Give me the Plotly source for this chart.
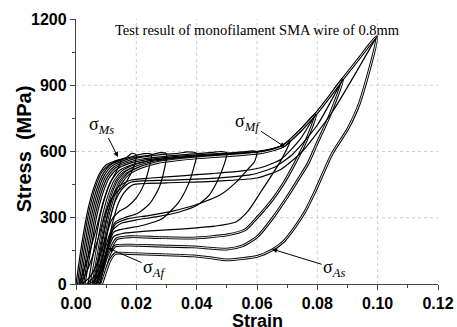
import plotly.graph_objects as go

# ---------------- data ----------------
x_ticks = [0.00, 0.02, 0.04, 0.06, 0.08, 0.10, 0.12]
x_tick_labels = ["0.00", "0.02", "0.04", "0.06", "0.08", "0.10", "0.12"]
y_ticks = [0, 300, 600, 900, 1200]
y_tick_labels = ["0", "300", "600", "900", "1200"]
grid_x = [0.02, 0.04, 0.06, 0.08, 0.10]
grid_y = [300, 600, 900]

strain_015 = [0.0000, 0.0020, 0.0040, 0.0060, 0.0080, 0.0100, 0.0125, 0.0150,
              0.0145, 0.0130, 0.0110, 0.0090, 0.0065, 0.0035, 0.0010]
stress_015 = [0, 190, 340, 440, 505, 540, 555, 565,
              540, 500, 450, 370, 240, 100, 0]

strain_020 = [0.0005, 0.0025, 0.0045, 0.0065, 0.0085, 0.0110, 0.0140, 0.0170, 0.0185, 0.0200,
              0.0195, 0.0180, 0.0160, 0.0135, 0.0115, 0.0095, 0.0070, 0.0040, 0.0015]
stress_020 = [0, 190, 340, 440, 505, 540, 560, 575, 592, 585,
              545, 495, 450, 415, 380, 310, 190, 70, 0]

strain_025 = [0.0010, 0.0030, 0.0050, 0.0070, 0.0090, 0.0115, 0.0150, 0.0190, 0.0225, 0.0250,
              0.0243, 0.0225, 0.0200, 0.0170, 0.0140, 0.0118, 0.0098, 0.0075, 0.0045, 0.0020]
stress_025 = [0, 185, 335, 435, 500, 540, 562, 578, 590, 588,
              530, 450, 390, 350, 325, 290, 210, 110, 30, 0]

strain_030 = [0.0015, 0.0035, 0.0055, 0.0075, 0.0095, 0.0120, 0.0160, 0.0200, 0.0250, 0.0280, 0.0300,
              0.0293, 0.0275, 0.0245, 0.0205, 0.0160, 0.0130, 0.0110, 0.0090, 0.0065, 0.0035]
stress_030 = [0, 180, 330, 430, 495, 535, 560, 575, 585, 595, 590,
              520, 435, 365, 320, 300, 280, 220, 130, 40, 0]

strain_040 = [0.0020, 0.0040, 0.0060, 0.0080, 0.0100, 0.0125, 0.0165, 0.0210, 0.0260, 0.0300, 0.0340, 0.0370, 0.0400,
              0.0392, 0.0372, 0.0340, 0.0285, 0.0220, 0.0160, 0.0125, 0.0105, 0.0085, 0.0060, 0.0040]
stress_040 = [0, 175, 325, 425, 490, 530, 555, 572, 582, 588, 592, 598, 592,
              535, 450, 370, 295, 265, 250, 235, 160, 70, 15, 0]

strain_050 = [0.0025, 0.0045, 0.0065, 0.0085, 0.0105, 0.0130, 0.0170, 0.0220, 0.0280, 0.0340, 0.0400, 0.0450, 0.0480, 0.0500,
              0.0492, 0.0470, 0.0440, 0.0400, 0.0340, 0.0270, 0.0200, 0.0150, 0.0122, 0.0102, 0.0080, 0.0055]
stress_050 = [0, 170, 320, 420, 485, 525, 550, 566, 576, 584, 590, 596, 600, 594,
              545, 470, 400, 355, 325, 305, 290, 275, 245, 160, 60, 0]

strain_060 = [0.0030, 0.0050, 0.0070, 0.0090, 0.0110, 0.0135, 0.0175, 0.0230, 0.0300, 0.0370, 0.0440, 0.0500, 0.0550, 0.0585, 0.0600,
              0.0592, 0.0570, 0.0530, 0.0480, 0.0400, 0.0320, 0.0240, 0.0170, 0.0130, 0.0108, 0.0088, 0.0065]
stress_060 = [0, 165, 315, 415, 480, 520, 545, 562, 573, 582, 588, 593, 598, 603, 598,
              555, 520, 460, 405, 360, 330, 310, 295, 270, 180, 70, 0]

strain_070 = [0.0040, 0.0060, 0.0080, 0.0100, 0.0120, 0.0145, 0.0185, 0.0240, 0.0310, 0.0380, 0.0450, 0.0520, 0.0590, 0.0640, 0.0680, 0.0710,
              0.0680, 0.0617, 0.0570, 0.0530, 0.0460, 0.0390, 0.0300, 0.0220, 0.0160, 0.0125, 0.0105, 0.0085, 0.0065]
stress_070 = [0, 160, 310, 410, 475, 515, 540, 558, 570, 578, 584, 590, 597, 607, 625, 650,
              561, 426, 330, 281, 262, 253, 245, 238, 230, 215, 150, 60, 0]

strain_080 = [0.0050, 0.0070, 0.0090, 0.0110, 0.0130, 0.0155, 0.0195, 0.0250, 0.0320, 0.0390, 0.0460, 0.0530, 0.0600, 0.0645, 0.0687, 0.0740, 0.0795,
              0.0760, 0.0726, 0.0690, 0.0650, 0.0600, 0.0560, 0.0500, 0.0390, 0.0280, 0.0180, 0.0135, 0.0112, 0.0092, 0.0075]
stress_080 = [0, 155, 305, 405, 470, 510, 536, 555, 567, 576, 582, 588, 596, 607, 625, 690, 770,
              640, 548, 460, 380, 300, 245, 222, 208, 210, 214, 205, 150, 60, 0]

strain_090 = [0.0060, 0.0080, 0.0100, 0.0120, 0.0140, 0.0165, 0.0205, 0.0260, 0.0330, 0.0400, 0.0470, 0.0540, 0.0610, 0.0650, 0.0687, 0.0740, 0.0795, 0.0840, 0.0885,
              0.0840, 0.0800, 0.0770, 0.0735, 0.0700, 0.0650, 0.0600, 0.0550, 0.0500, 0.0390, 0.0280, 0.0180, 0.0130, 0.0110, 0.0092, 0.0080]
stress_090 = [0, 150, 300, 400, 465, 505, 532, 552, 565, 574, 580, 587, 596, 608, 625, 690, 770, 848, 930,
              760, 640, 548, 470, 394, 295, 213, 172, 158, 168, 172, 176, 172, 130, 50, 0]

strain_100 = [0.0070, 0.0090, 0.0110, 0.0130, 0.0150, 0.0175, 0.0215, 0.0270, 0.0340, 0.0410, 0.0480, 0.0550, 0.0620, 0.0655, 0.0687, 0.0740, 0.0795, 0.0840, 0.0885, 0.0940, 0.0997,
              0.0940, 0.0900, 0.0850, 0.0790, 0.0760, 0.0726, 0.0690, 0.0650, 0.0600, 0.0500, 0.0450, 0.0390, 0.0280, 0.0180, 0.0130, 0.0112, 0.0095, 0.0085]
stress_100 = [0, 145, 295, 395, 460, 500, 528, 550, 563, 572, 579, 586, 596, 608, 625, 690, 770, 848, 930, 1025, 1120,
              820, 700, 593, 412, 330, 258, 195, 154, 125, 109, 118, 127, 133, 138, 138, 105, 40, 0]

# second-cycle loading paths (lower plateau)
strain_080_c2 = [0.0060, 0.0080, 0.0100, 0.0120, 0.0140, 0.0180, 0.0250, 0.0350, 0.0450, 0.0550, 0.0620, 0.0680, 0.0740, 0.0795]
stress_080_c2 = [0, 150, 290, 390, 440, 470, 480, 490, 500, 512, 530, 565, 650, 770]

strain_090_c2 = [0.0070, 0.0090, 0.0110, 0.0130, 0.0150, 0.0180, 0.0300, 0.0450, 0.0580, 0.0660, 0.0720, 0.0800, 0.0885]
stress_090_c2 = [0, 140, 280, 375, 425, 460, 470, 478, 495, 530, 590, 720, 930]

strain_100_c2 = [0.0080, 0.0100, 0.0120, 0.0140, 0.0160, 0.0190, 0.0300, 0.0450, 0.0600, 0.0680, 0.0750, 0.0850, 0.0997]
stress_100_c2 = [0, 135, 270, 365, 415, 450, 458, 465, 480, 520, 600, 780, 1120]

# loops drawn with a doubled ("hollow") stroke, as the repeated outer cycles look in the reference
double_loops = [(strain_080, stress_080), (strain_090, stress_090), (strain_100, stress_100)]
single_loops = [
    (strain_015, stress_015), (strain_020, stress_020), (strain_025, stress_025),
    (strain_030, stress_030), (strain_040, stress_040), (strain_050, stress_050),
    (strain_060, stress_060), (strain_070, stress_070),
    (strain_080_c2, stress_080_c2), (strain_090_c2, stress_090_c2), (strain_100_c2, stress_100_c2),
]

# ---------------- figure ----------------
fig = go.Figure()
spline = dict(shape="spline", smoothing=0.6)
for sx, sy in double_loops:
    fig.add_trace(go.Scatter(x=sx, y=sy, mode="lines",
                             line=dict(color="black", width=2.8, **spline),
                             hoverinfo="skip", showlegend=False))
    fig.add_trace(go.Scatter(x=sx, y=sy, mode="lines",
                             line=dict(color="white", width=0.9, **spline),
                             hoverinfo="skip", showlegend=False))
for sx, sy in single_loops:
    fig.add_trace(go.Scatter(x=sx, y=sy, mode="lines",
                             line=dict(color="black", width=1.2, **spline),
                             hoverinfo="skip", showlegend=False))

shapes = []
for gx in grid_x:
    shapes.append(dict(type="line", xref="x", yref="y", x0=gx, x1=gx, y0=0, y1=1200,
                       line=dict(color="#cfcfcf", width=1, dash="dot"), layer="below"))
for gy in grid_y:
    shapes.append(dict(type="line", xref="x", yref="y", x0=0, x1=0.12, y0=gy, y1=gy,
                       line=dict(color="#cfcfcf", width=1, dash="dot"), layer="below"))

serif = "Liberation Serif, Times New Roman, serif"
sans = "Liberation Sans, Arial, sans-serif"
ann_font = dict(family=serif, size=18, color="black")
annotations = [
    dict(x=0.06, y=1.0, xref="x", yref="paper", yanchor="top", yshift=-1,
         text="Test result of monofilament SMA wire of 0.8mm", showarrow=False,
         font=dict(family=serif, size=14.5, color="black")),
    dict(x=0.0139, y=575, xref="x", yref="y", text="σ<sub><i>Ms</i></sub>",
         showarrow=True, ax=-16, ay=-32, arrowhead=2, arrowsize=1, arrowwidth=1,
         arrowcolor="black", font=ann_font),
    dict(x=0.0693, y=620, xref="x", yref="y", text="σ<sub><i>Mf</i></sub>",
         showarrow=True, ax=-38, ay=-25, arrowhead=2, arrowsize=1, arrowwidth=1,
         arrowcolor="black", font=ann_font),
    dict(x=0.0106, y=163, xref="x", yref="y", text="σ<sub><i>Af</i></sub>",
         showarrow=True, ax=46, ay=20, arrowhead=2, arrowsize=1, arrowwidth=1,
         arrowcolor="black", font=ann_font),
    dict(x=0.065, y=158, xref="x", yref="y", text="σ<sub><i>As</i></sub>",
         showarrow=True, ax=62, ay=19, arrowhead=2, arrowsize=1, arrowwidth=1,
         arrowcolor="black", font=ann_font),
    # axis titles
    dict(x=0.5, y=-0.136, xref="paper", yref="paper", xanchor="center", yanchor="middle",
         text="<b>Strain</b>", showarrow=False, height=15, borderpad=0,
         font=dict(family=sans, size=18, color="black")),
    dict(x=-0.145, y=0.51, xref="paper", yref="paper", xanchor="center", yanchor="middle",
         text="<b>Stress  (MPa)</b>", showarrow=False, textangle=-90,
         font=dict(family=sans, size=20, color="black")),
]

axis_font = dict(family=sans, size=16, color="black")
fig.update_layout(
    width=457, height=327,
    margin=dict(l=76, r=19, t=19, b=43, autoexpand=False),
    paper_bgcolor="white", plot_bgcolor="white",
    shapes=shapes, annotations=annotations,
    xaxis=dict(
        range=[0, 0.12], tickvals=x_ticks, ticktext=["<b>%s</b>" % t for t in x_tick_labels],
        automargin=False,
        showgrid=False, zeroline=False, showline=True, linecolor="#444444", linewidth=1.3,
        ticks="outside", ticklen=5, tickwidth=1.2, tickcolor="#444444",
        ticklabelstandoff=0,
        minor=dict(tickvals=[0.01, 0.03, 0.05, 0.07, 0.09, 0.11], ticks="outside",
                   ticklen=3, tickwidth=1.2, tickcolor="#444444", showgrid=False),
        tickfont=axis_font,
    ),
    yaxis=dict(
        range=[0, 1200], tickvals=y_ticks, ticktext=["<b>%s</b>" % t for t in y_tick_labels],
        automargin=False,
        showgrid=False, zeroline=False, showline=True, linecolor="#444444", linewidth=1.3,
        ticks="outside", ticklen=5, tickwidth=1.2, tickcolor="#444444",
        minor=dict(tickvals=[150, 450, 750, 1050], ticks="outside",
                   ticklen=3, tickwidth=1.2, tickcolor="#444444", showgrid=False),
        tickfont=axis_font,
    ),
)

fig.write_html("out.html")
